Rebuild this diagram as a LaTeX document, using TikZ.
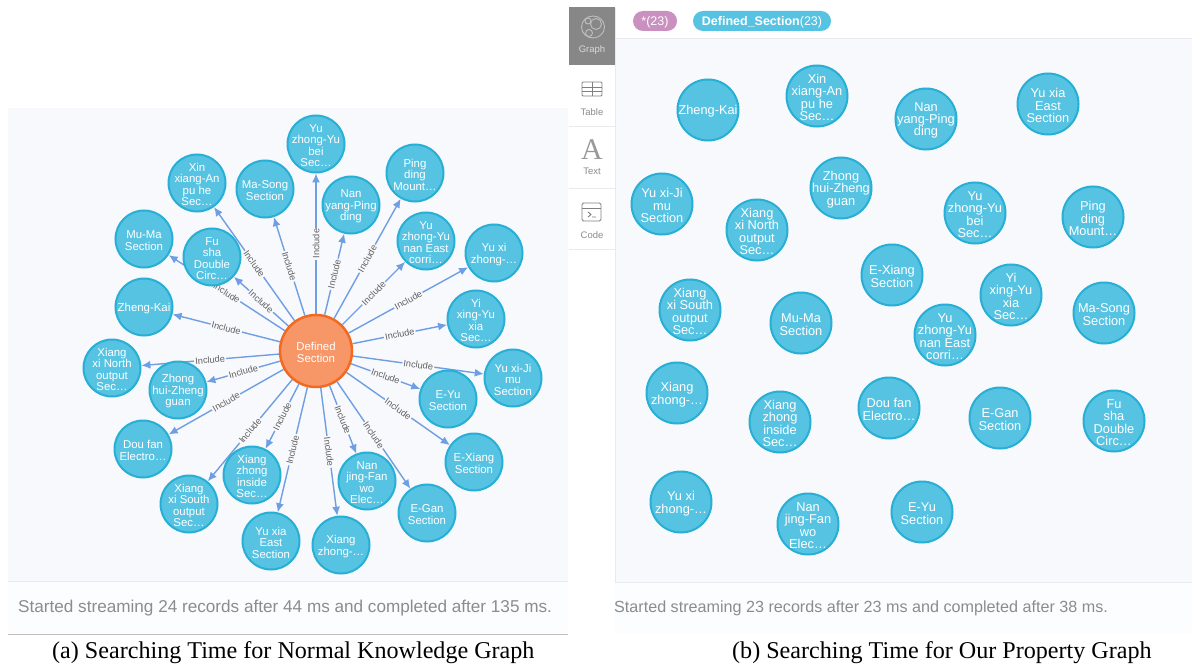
\documentclass[tikz,border=0pt]{standalone}
\usepackage{fontspec}
\setmainfont{Liberation Sans}
\newfontfamily\capfont{Liberation Serif}
\usetikzlibrary{arrows.meta}
\definecolor{panelbg}{HTML}{F8F9FC}
\definecolor{nodefill}{HTML}{57C3E2}
\definecolor{nodeline}{HTML}{27AFD5}
\definecolor{hubfill}{HTML}{F79767}
\definecolor{hubline}{HTML}{F2691F}
\definecolor{edgeblue}{HTML}{6F9EE2}
\definecolor{pinkpill}{HTML}{C990C0}
\definecolor{rulegrey}{HTML}{E8EAEE}
\definecolor{footgrey}{HTML}{8C8C8C}
\pgfdeclarelayer{bglayer}
\pgfdeclarelayer{edgelayer}
\pgfsetlayers{bglayer,edgelayer,main}
\tikzset{
  lcirc/.style={circle,draw=nodeline,fill=nodefill,line width=2pt,minimum size=57pt,inner sep=0pt},
  rcirc/.style={circle,draw=nodeline,fill=nodefill,line width=2pt,minimum size=61pt,inner sep=0pt},
  hub/.style={circle,draw=hubline,fill=hubfill,line width=2.5pt,minimum size=72pt,inner sep=0pt},
  ltext/.style={text=white,align=center,inner sep=0pt,yshift=-1.5pt,font=\fontsize{11.4}{11.5}\selectfont},
  rtext/.style={text=white,align=center,inner sep=0pt,yshift=-1.5pt,font=\fontsize{12.8}{12.4}\selectfont},
  rel/.style={draw=edgeblue,line width=1.4pt,-{Latex[length=9pt,width=8pt]}},
  rellabel/.style={sloped,midway,fill=panelbg,inner sep=1.2pt,text=black!62,font=\fontsize{9.2}{9.5}\selectfont},
  footnotea/.style={text=footgrey,anchor=west,inner sep=0pt,font=\fontsize{17.15}{19}\selectfont},
  footnoteb/.style={text=footgrey,anchor=west,inner sep=0pt,font=\fontsize{16.15}{19}\selectfont},
  captiontext/.style={text=black,anchor=west,inner sep=0pt,font=\capfont\fontsize{24.1}{27}\selectfont},
  tabtext/.style={text=black!45,inner sep=0pt,font=\fontsize{9.5}{10}\selectfont},
  pilltext/.style={text=white,inner sep=0pt,yshift=-1pt,font=\fontsize{12.5}{14}\selectfont},
  sep/.style={draw=rulegrey,line width=0.8pt},
  icon/.style={draw=black!50,line width=0.9pt}
}
\newcommand{\lnode}[4]{\node[lcirc] (#1) at (#2,#3) {}; \node[ltext] (#1t) at (#1) {#4};
  \begin{pgfonlayer}{edgelayer}\draw[rel] (hubc) -- node[rellabel] (#1e) {Include} (#1);\end{pgfonlayer}}
\newcommand{\rnode}[4]{\node[rcirc] (#1) at (#2,#3) {}; \node[rtext] (#1t) at (#1) {#4};}
\begin{document}
\begin{tikzpicture}[x=1pt,y=-1pt]
\useasboundingbox (0,0) rectangle (1192,666);
\begin{pgfonlayer}{bglayer}
  \fill[white] (0,0) rectangle (1192,666);
  \fill[panelbg] (8,108) rectangle (568,581);
  \fill[panelbg!40!white] (8,581) rectangle (568,634);
  \fill[panelbg] (615,38) rectangle (1192,582);
  \fill[panelbg!40!white] (615,582) rectangle (1192,634);
  \draw[sep] (8,581.5) -- (568,581.5);
  \draw[black!25,line width=0.9pt] (8,634.5) -- (568,634.5);
  \draw[sep] (615,582) -- (1192,582);
  \draw[sep] (615,38) -- (1192,38);
  \draw[sep] (615.5,8) -- (615.5,582);
  \fill[black!47] (569,7) rectangle (615,65);
  \foreach \yy in {126,188,249} \draw[sep] (569,\yy) -- (615,\yy);
\end{pgfonlayer}

% left graph
\node[hub] (hubc) at (316,351) {};
\node[ltext] (hubt) at (hubc) {Defined\\Section};
\lnode{a1}{197}{183}{Xin\\xiang-An\\pu he\\Sec…}
\lnode{a2}{265}{189}{Ma-Song\\Section}
\lnode{a3}{316}{144}{Yu\\zhong-Yu\\bei\\Sec…}
\lnode{a4}{351}{205}{Nan\\yang-Ping\\ding}
\lnode{a5}{415}{173}{Ping\\ding\\Mount…}
\lnode{a6}{426}{241}{Yu\\zhong-Yu\\nan East\\corri…}
\lnode{a7}{494}{253}{Yu xi\\zhong-…}
\lnode{a8}{476}{319}{Yi\\xing-Yu\\xia\\Sec…}
\lnode{a9}{513}{378}{Yu xi-Ji\\mu\\Section}
\lnode{a10}{448}{399}{E-Yu\\Section}
\lnode{a11}{474}{462}{E-Xiang\\Section}
\lnode{a12}{427}{513}{E-Gan\\Section}
\lnode{a13}{367}{481}{Nan\\jing-Fan\\wo\\Elec…}
\lnode{a14}{341}{545}{Xiang\\zhong-…}
\lnode{a15}{271}{541}{Yu xia\\East\\Section}
\lnode{a16}{252}{475}{Xiang\\zhong\\inside\\Sec…}
\lnode{a17}{189}{504}{Xiang\\xi South\\output\\Sec…}
\lnode{a18}{143}{449}{Dou fan\\Electro…}
\lnode{a19}{178}{390}{Zhong\\hui-Zheng\\guan}
\lnode{a20}{112}{368}{Xiang\\xi North\\output\\Sec…}
\lnode{a21}{144}{307}{Zheng-Kai}
\lnode{a22}{144}{239}{Mu-Ma\\Section}
\lnode{a23}{212}{257}{Fu\\sha\\Double\\Circ…}

% right graph
\rnode{b1}{708}{110}{Zheng-Kai}
\rnode{b2}{817}{96}{Xin\\xiang-An\\pu he\\Sec…}
\rnode{b3}{926}{119}{Nan\\yang-Ping\\ding}
\rnode{b4}{1048}{104}{Yu xia\\East\\Section}
\rnode{b5}{841}{188}{Zhong\\hui-Zheng\\guan}
\rnode{b6}{662}{204}{Yu xi-Ji\\mu\\Section}
\rnode{b7}{757}{230}{Xiang\\xi North\\output\\Sec…}
\rnode{b8}{975}{213}{Yu\\zhong-Yu\\bei\\Sec…}
\rnode{b9}{1093}{217}{Ping\\ding\\Mount…}
\rnode{b10}{892}{275}{E-Xiang\\Section}
\rnode{b11}{1011}{295}{Yi\\xing-Yu\\xia\\Sec…}
\rnode{b12}{690}{310}{Xiang\\xi South\\output\\Sec…}
\rnode{b13}{801}{323}{Mu-Ma\\Section}
\rnode{b14}{945}{335}{Yu\\zhong-Yu\\nan East\\corri…}
\rnode{b15}{1104}{313}{Ma-Song\\Section}
\rnode{b16}{677}{393}{Xiang\\zhong-…}
\rnode{b17}{780}{422}{Xiang\\zhong\\inside\\Sec…}
\rnode{b18}{889}{408}{Dou fan\\Electro…}
\rnode{b19}{1000}{418}{E-Gan\\Section}
\rnode{b20}{1114}{421}{Fu\\sha\\Double\\Circ…}
\rnode{b21}{681}{502}{Yu xi\\zhong-…}
\rnode{b22}{808}{524}{Nan\\jing-Fan\\wo\\Elec…}
\rnode{b23}{922}{512}{E-Yu\\Section}

% pills
\node[fill=pinkpill,rounded corners=10pt,minimum width=44pt,minimum height=20pt,inner sep=0pt] (pill1) at (655,21) {};
\node[pilltext] (pill1t) at (pill1) {*(23)};
\node[fill=nodefill,rounded corners=10pt,minimum width=138pt,minimum height=20pt,inner sep=0pt] (pill2) at (762,21) {};
\node[pilltext] (pill2t) at (pill2) {\textbf{Defined\_Section}(23)};

% sidebar
\node[tabtext,text=white!85!black] (tab1) at (592,50.5) {Graph};
\node[tabtext] (tab2) at (592,112) {Table};
\node[tabtext] (tab3) at (592,171) {Text};
\node[tabtext] (tab4) at (592,235) {Code};
% graph icon
\draw[draw=white!75!black,line width=0.9pt] (593,27) circle [x radius=11.5pt,y radius=11pt];
\draw[draw=white!75!black,line width=0.9pt,fill=black!47] (596,24) circle [radius=5.5pt];
\draw[draw=white!75!black,line width=0.9pt,fill=black!47] (588,21) circle [radius=3pt];
\draw[draw=white!75!black,line width=0.9pt,fill=black!47] (589,33) circle [radius=3.5pt];
% table icon
\draw[icon,rounded corners=1pt] (582,82) rectangle (602,96);
\draw[icon] (582,87) -- (602,87) (582,91.5) -- (602,91.5) (592,82) -- (592,96);
% text icon
\node[text=black!40,inner sep=0pt,font=\capfont\fontsize{30}{30}\selectfont] (iconA) at (592,150) {A};
% code icon
\draw[icon,rounded corners=1.5pt] (582,203) rectangle (601,221);
\draw[icon] (582,208) -- (601,208);
\draw[icon] (588,212) -- (591,214.5) -- (588,217) (592,217) -- (596,217);

% footers and captions
\node[footnotea] (foota) at (18,608.5) {Started streaming 24 records after 44 ms and completed after 135 ms.};
\node[footnoteb] (footb) at (614,608.5) {Started streaming 23 records after 23 ms and completed after 38 ms.};
\node[captiontext] (capa) at (52,653) {(a) Searching Time for Normal Knowledge Graph};
\node[captiontext] (capb) at (732,653) {(b) Searching Time for Our Property Graph};
\end{tikzpicture}
\end{document}
